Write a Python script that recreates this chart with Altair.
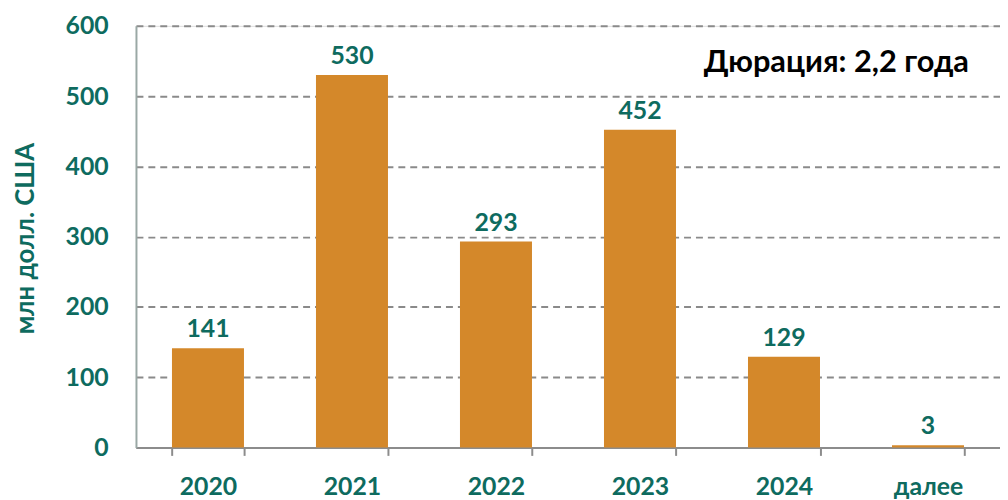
import altair as alt
import pandas as pd

categories = ["2020", "2021", "2022", "2023", "2024", "далее"]
values = [141, 530, 293, 452, 129, 3]
y_ticks = [0, 100, 200, 300, 400, 500, 600]
annotation = "Дюрация: 2,2 года"
y_title = "млн долл. США"

BAR = "#D4882A"
TEAL = "#0E6B5F"
FONT = "Lato"

df = pd.DataFrame({"cat": categories, "val": values})

x_enc = alt.X(
    "cat:N",
    sort=categories,
    title=None,
    scale=alt.Scale(paddingInner=0.5, paddingOuter=0.25),
    axis=alt.Axis(
        labelAngle=0,
        labelFont=FONT,
        labelFontSize=25,
        labelFontWeight="bold",
        labelColor=TEAL,
        labelPadding=19,
        tickBand="extent",
        tickSize=8,
        tickColor="#8c8c8c",
        tickWidth=2,
        domainColor="#8c8c8c",
        domainWidth=2,
        grid=False,
    ),
)

y_enc = alt.Y(
    "val:Q",
    scale=alt.Scale(domain=[0, 600], nice=False),
    title=y_title,
    axis=alt.Axis(
        values=y_ticks,
        ticks=False,
        tickSize=0,
        labelFont=FONT,
        labelFontSize=25,
        labelFontWeight="bold",
        labelColor=TEAL,
        labelPadding=28,
        domainColor="#9aa8a5",
        domainWidth=2,
        grid=True,
        gridColor="#8a8a8a",
        gridDash=[7, 5],
        gridWidth=2,
        titleFont=FONT,
        titleFontSize=26,
        titleFontWeight="bold",
        titleColor=TEAL,
        titleAngle=-90,
        titleX=-111,
        titleY=214,
        titleAlign="center",
        titleBaseline="middle",
    ),
)

base = alt.Chart(df)

bars = base.mark_bar(color=BAR).encode(x=x_enc, y=y_enc)

labels = base.mark_text(
    font=FONT,
    fontSize=25,
    fontWeight="bold",
    color=TEAL,
    baseline="alphabetic",
    dy=-11,
).encode(x=alt.X("cat:N", sort=categories), y="val:Q", text="val:Q")

note = alt.Chart(pd.DataFrame({"t": [annotation]})).mark_text(
    font=FONT,
    fontSize=31,
    fontWeight="bold",
    color="#000000",
    baseline="middle",
    align="center",
).encode(x=alt.value(706), y=alt.value(38), text="t:N")

chart = (
    alt.layer(bars, labels, note)
    .properties(
        width=871,
        height=425,
        autosize=alt.AutoSizeParams(type="none"),
        padding={"left": 129, "top": 16, "right": 0, "bottom": 51},
    )
    .configure_view(stroke=None)
    .configure(background="white")
)

chart.save("out.html", embed_options={"renderer": "svg", "actions": False})
